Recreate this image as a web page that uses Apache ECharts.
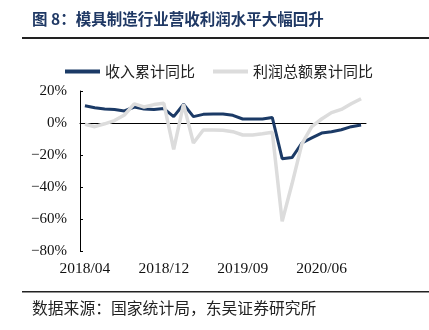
<!DOCTYPE html>
<html><head><meta charset="utf-8">
<script src="https://cdn.jsdelivr.net/npm/echarts@6/dist/echarts.min.js"></script>
<style>html,body{margin:0;padding:0;background:#fff}#c{width:429px;height:330px}</style>
</head><body><div id="c"></div>
<script>
var categories = ['2018/04','2018/05','2018/06','2018/07','2018/08','2018/09','2018/10','2018/11','2018/12',
  '2019/02','2019/03','2019/04','2019/05','2019/06','2019/07','2019/08','2019/09','2019/10','2019/11','2019/12',
  '2020/02','2020/03','2020/04','2020/05','2020/06','2020/07','2020/08','2020/09','2020/10'];
var revenueYoY = [10.8, 9.5, 8.8, 8.5, 7.5, 10.0, 8.8, 8.4, 9.0,
  4.0, 11.7, 4.0, 5.4, 5.6, 5.6, 4.8, 2.5, 2.5, 2.5, 3.4,
  -22.3, -21.6, -12.5, -9.3, -6.3, -5.5, -4.2, -2.3, -1.2];
var profitYoY = [-0.8, -2.3, -0.5, 1.5, 5.0, 12.0, 10.0, 11.5, 12.3,
  -16.5, 11.8, -12.5, -4.4, -4.4, -4.6, -5.4, -7.5, -7.5, -6.7, -5.8,
  -61.5, -38.0, -13.0, -2.3, 2.5, 6.5, 8.5, 12.0, 15.2];
var seriesNames = ['收入累计同比', '利润总额累计同比'];
var yTicks = {min: -80, max: 20, interval: 20};
var titleText = '图 8：模具制造行业营收利润水平大幅回升';
var sourceText = '数据来源：国家统计局，东吴证券研究所';

var chart = echarts.init(document.getElementById('c'));
var serif = '"Liberation Serif","DejaVu Serif",serif';
var cjk = '"Noto Sans CJK SC","Noto Sans",sans-serif';
chart.setOption({
  animation: false,
  backgroundColor: '#fff',
  graphic: [
    {type: 'text', left: 32, top: 11, style: {text: titleText, font: 'bold 15.5px ' + cjk, fill: '#1f3864'}},
    {type: 'rect', shape: {x: 22, y: 37, width: 407, height: 2}, style: {fill: '#222'}},
    {type: 'rect', shape: {x: 22, y: 291, width: 407, height: 1.5}, style: {fill: '#222'}},
    {type: 'text', left: 32, top: 300, style: {text: sourceText, font: '15.8px ' + cjk, fill: '#222'}}
  ],
  legend: {
    top: 59, left: 60,
    itemWidth: 35, itemHeight: 4, itemGap: 18,
    icon: 'rect',
    textStyle: {fontFamily: cjk, fontSize: 15, color: '#222'},
    data: seriesNames
  },
  grid: {left: 80, right: 63, top: 91, bottom: 79},
  xAxis: {
    type: 'category', data: categories, boundaryGap: true,
    axisLine: {lineStyle: {color: '#000', width: 1}},
    axisTick: {inside: true, length: 4, interval: 7, lineStyle: {color: '#000'}},
    axisLabel: {interval: 7, margin: 10, color: '#111', fontFamily: serif, fontSize: 15.5}
  },
  yAxis: {
    type: 'value', min: yTicks.min, max: yTicks.max, interval: yTicks.interval,
    axisLine: {show: true, lineStyle: {color: '#000', width: 1}},
    axisTick: {show: true, inside: true, length: 3, lineStyle: {color: '#000'}},
    splitLine: {show: false},
    axisLabel: {margin: 13, color: '#111', fontFamily: serif, fontSize: 15,
      formatter: function (v) { return (v < 0 ? '\u2212' + (-v) : v) + '%'; }}
  },
  series: [
    {name: seriesNames[0], type: 'line', data: revenueYoY, showSymbol: false, symbol: 'none',
      lineStyle: {color: '#1b3a66', width: 3}, itemStyle: {color: '#1b3a66'}},
    {name: seriesNames[1], type: 'line', data: profitYoY, showSymbol: false, symbol: 'none',
      lineStyle: {color: '#dcdcdc', width: 3.5}, itemStyle: {color: '#dcdcdc'}}
  ]
});
</script></body></html>
